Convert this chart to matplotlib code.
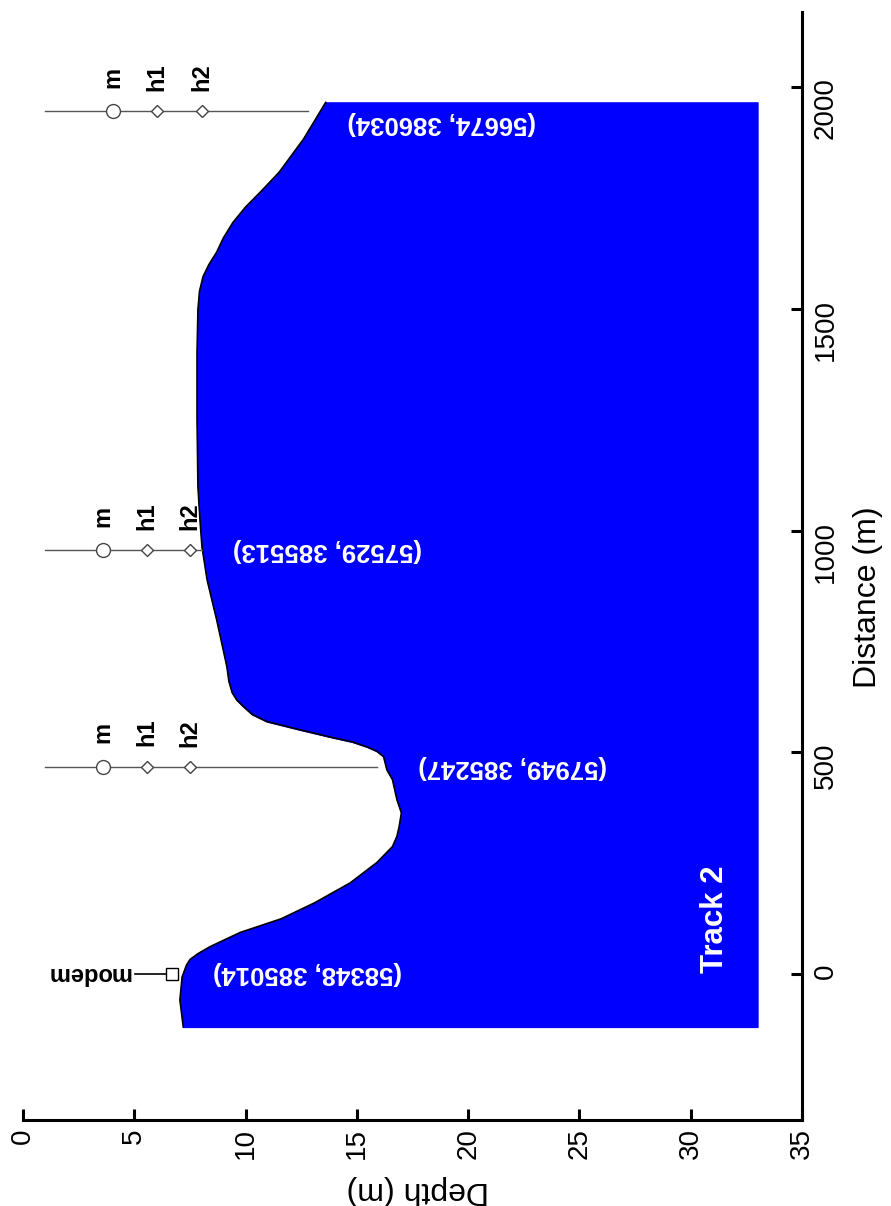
import matplotlib.pyplot as plt

# seabed profile along the track (distance in m, depth in m)
dist_m = [-120, -59, -7, 20, 32, 45, 61, 93, 124, 160, 205, 251, 287, 310, 332, 363,
          393, 438, 460, 490, 502, 512, 523, 533, 551, 569, 585, 603, 618, 634, 660,
          693, 799, 889, 964, 1025, 1099, 1251, 1402, 1499, 1540, 1573, 1600, 1628,
          1660, 1695, 1730, 1763, 1808, 1883, 1966]
depth_m = [7.2, 7.05, 7.15, 7.35, 7.5, 7.85, 8.4, 9.75, 11.6, 13.1, 14.7, 15.9, 16.6,
           16.8, 16.9, 17.0, 16.8, 16.6, 16.35, 16.2, 15.9, 15.45, 14.8, 13.9, 12.4,
           10.96, 10.3, 9.9, 9.6, 9.4, 9.25, 9.16, 8.7, 8.27, 8.04, 7.95, 7.86, 7.82,
           7.82, 7.86, 7.93, 8.09, 8.35, 8.7, 9.0, 9.43, 10.0, 10.65, 11.5, 12.6, 13.6]
fill_bottom = 33.0

# instrument stations
station_dist = [467, 955, 1946]
station_end = [15.9, 8.04, 12.8]
m_depth = [3.6, 3.6, 4.04]
h1_depth = [5.57, 5.57, 6.0]
h2_depth = [7.5, 7.5, 8.04]

modem_dist = 0
modem_depth = 6.7

# coordinate annotations (depth, distance, text)
coord_depth = [12.8, 22.0, 13.7, 18.8]
coord_dist = [2, 467, 957, 1919]
coord_text = ["(58348, 385014)", "(57949, 385247)", "(57529, 385513)", "(56674, 386034)"]

depth_ticks = [0, 5, 10, 15, 20, 25, 30, 35]
dist_ticks = [0, 500, 1000, 1500, 2000]

plt.rcParams['font.family'] = ['Liberation Sans', 'DejaVu Sans']

fig = plt.figure(figsize=(8.91, 12.06), dpi=100)
ax = fig.add_axes([23 / 891, 1 - 1120 / 1206, 779 / 891, 1108 / 1206])

# water column / seabed fill
ax.fill_betweenx(dist_m, depth_m, fill_bottom, color='#0000FF', zorder=1)
ax.plot(depth_m, dist_m, color='black', lw=1.2, zorder=2)

# stations with markers and labels
for i in range(len(station_dist)):
    d = station_dist[i]
    ax.plot([1.0, station_end[i]], [d, d], color='#555555', lw=1, zorder=3)
    ax.plot(m_depth[i], d, 'o', ms=10, mfc='white', mec='#444444', mew=1, zorder=4)
    ax.plot([h1_depth[i], h2_depth[i]], [d, d], 'D', ms=6.5, mfc='white',
            mec='#444444', mew=1, zorder=4)
    for lab, x in zip(['m', 'h1', 'h2'], [m_depth[i], h1_depth[i], h2_depth[i]]):
        ax.text(x, d + 77, lab, rotation=90, ha='center', va='center',
                fontsize=17, fontweight='bold', zorder=5)

# modem
ax.plot([5.03, modem_depth], [modem_dist, modem_dist], color='black', lw=1.2, zorder=3)
ax.plot(modem_depth, modem_dist, 's', ms=9, mfc='white', mec='black', mew=1, zorder=4)
ax.text(2.92, modem_dist, 'modem', rotation=180, ha='center', va='center',
        fontsize=17, fontweight='bold')

for x, y, t in zip(coord_depth, coord_dist, coord_text):
    ax.text(x, y, t, rotation=180, ha='center', va='center', color='white',
            fontsize=18.5, fontweight='bold', zorder=5)

ax.text(31.1, 122, 'Track 2', rotation=90, ha='center', va='center', color='white',
        fontsize=22.5, fontweight='bold', zorder=5)

ax.set_xlim(0, 35)
ax.set_ylim(-330, 2170)

for s in ['top', 'left']:
    ax.spines[s].set_visible(False)
for s in ['bottom', 'right']:
    ax.spines[s].set_linewidth(2.2)

ax.yaxis.tick_right()
ax.set_xticks(depth_ticks)
ax.set_yticks(dist_ticks)
ax.tick_params(axis='both', direction='in', length=8, width=2.2, labelsize=20)
ax.tick_params(axis='x', labelrotation=90, pad=6)
ax.tick_params(axis='y', labelrotation=90, pad=8)

ax.set_xlabel('Depth (m)', rotation=180, fontsize=23, ha='center', va='center')
ax.xaxis.set_label_coords(0.507, -0.063)
ax.yaxis.set_label_position('right')
ax.set_ylabel('Distance (m)', rotation=90, fontsize=23, ha='center', va='center',
              rotation_mode='default')
ax.yaxis.set_label_coords(1.085, 0.472)

fig.savefig('out.png', dpi=100)
